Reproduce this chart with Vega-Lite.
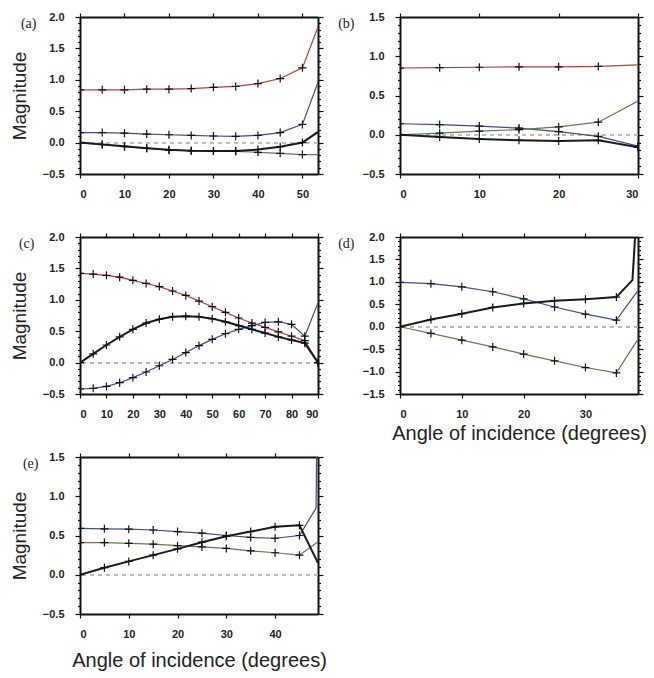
{
"$schema":"https://vega.github.io/schema/vega-lite/v6.json",
"background":"white",
"padding":{"left":10,"top":11,"right":5,"bottom":5},
"datasets":{"d":[
{"p":"a","s":"red","x":0,"y":0.84,"m":1},{"p":"a","s":"red","x":5,"y":0.84,"m":1},{"p":"a","s":"red","x":10,"y":0.84,"m":1},{"p":"a","s":"red","x":15,"y":0.85,"m":1},{"p":"a","s":"red","x":20,"y":0.85,"m":1},{"p":"a","s":"red","x":25,"y":0.86,"m":1},{"p":"a","s":"red","x":30,"y":0.88,"m":1},{"p":"a","s":"red","x":35,"y":0.895,"m":1},{"p":"a","s":"red","x":40,"y":0.94,"m":1},{"p":"a","s":"red","x":45,"y":1.02,"m":1},{"p":"a","s":"red","x":50,"y":1.19,"m":1},{"p":"a","s":"red","x":53.5,"y":1.84,"m":0},
{"p":"a","s":"blue","x":0,"y":0.16,"m":1},{"p":"a","s":"blue","x":5,"y":0.16,"m":1},{"p":"a","s":"blue","x":10,"y":0.15,"m":1},{"p":"a","s":"blue","x":15,"y":0.135,"m":1},{"p":"a","s":"blue","x":20,"y":0.125,"m":1},{"p":"a","s":"blue","x":25,"y":0.115,"m":1},{"p":"a","s":"blue","x":30,"y":0.105,"m":1},{"p":"a","s":"blue","x":35,"y":0.1,"m":1},{"p":"a","s":"blue","x":40,"y":0.115,"m":1},{"p":"a","s":"blue","x":45,"y":0.16,"m":1},{"p":"a","s":"blue","x":50,"y":0.29,"m":1},{"p":"a","s":"blue","x":53.5,"y":0.96,"m":0},
{"p":"a","s":"green","x":0,"y":0,"m":1},{"p":"a","s":"green","x":5,"y":-0.03,"m":1},{"p":"a","s":"green","x":10,"y":-0.065,"m":1},{"p":"a","s":"green","x":15,"y":-0.09,"m":1},{"p":"a","s":"green","x":20,"y":-0.12,"m":1},{"p":"a","s":"green","x":25,"y":-0.13,"m":1},{"p":"a","s":"green","x":30,"y":-0.135,"m":1},{"p":"a","s":"green","x":35,"y":-0.14,"m":1},{"p":"a","s":"green","x":40,"y":-0.155,"m":1},{"p":"a","s":"green","x":45,"y":-0.17,"m":1},{"p":"a","s":"green","x":50,"y":-0.19,"m":1},{"p":"a","s":"green","x":53.5,"y":-0.19,"m":0},
{"p":"a","s":"black","x":0,"y":0,"m":1},{"p":"a","s":"black","x":5,"y":-0.03,"m":1},{"p":"a","s":"black","x":10,"y":-0.06,"m":1},{"p":"a","s":"black","x":15,"y":-0.09,"m":1},{"p":"a","s":"black","x":20,"y":-0.115,"m":1},{"p":"a","s":"black","x":25,"y":-0.13,"m":1},{"p":"a","s":"black","x":30,"y":-0.135,"m":1},{"p":"a","s":"black","x":35,"y":-0.135,"m":1},{"p":"a","s":"black","x":40,"y":-0.11,"m":1},{"p":"a","s":"black","x":45,"y":-0.065,"m":1},{"p":"a","s":"black","x":50,"y":0.0,"m":1},{"p":"a","s":"black","x":53.5,"y":0.17,"m":0},
{"p":"b","s":"red","x":0,"y":0.85,"m":1},{"p":"b","s":"red","x":5,"y":0.855,"m":1},{"p":"b","s":"red","x":10,"y":0.86,"m":1},{"p":"b","s":"red","x":15,"y":0.865,"m":1},{"p":"b","s":"red","x":20,"y":0.865,"m":1},{"p":"b","s":"red","x":25,"y":0.87,"m":1},{"p":"b","s":"red","x":30,"y":0.89,"m":0},
{"p":"b","s":"blue","x":0,"y":0.14,"m":1},{"p":"b","s":"blue","x":5,"y":0.13,"m":1},{"p":"b","s":"blue","x":10,"y":0.11,"m":1},{"p":"b","s":"blue","x":15,"y":0.085,"m":1},{"p":"b","s":"blue","x":20,"y":0.04,"m":1},{"p":"b","s":"blue","x":25,"y":-0.02,"m":1},{"p":"b","s":"blue","x":30,"y":-0.145,"m":1},
{"p":"b","s":"green","x":0,"y":0,"m":1},{"p":"b","s":"green","x":5,"y":0.02,"m":1},{"p":"b","s":"green","x":10,"y":0.045,"m":1},{"p":"b","s":"green","x":15,"y":0.065,"m":1},{"p":"b","s":"green","x":20,"y":0.1,"m":1},{"p":"b","s":"green","x":25,"y":0.16,"m":1},{"p":"b","s":"green","x":30,"y":0.43,"m":0},
{"p":"b","s":"black","x":0,"y":0,"m":1},{"p":"b","s":"black","x":5,"y":-0.03,"m":1},{"p":"b","s":"black","x":10,"y":-0.055,"m":1},{"p":"b","s":"black","x":15,"y":-0.07,"m":1},{"p":"b","s":"black","x":20,"y":-0.08,"m":1},{"p":"b","s":"black","x":25,"y":-0.07,"m":1},{"p":"b","s":"black","x":30,"y":-0.16,"m":1},
{"p":"c","s":"red","x":0,"y":1.42,"m":1},{"p":"c","s":"red","x":5,"y":1.41,"m":1},{"p":"c","s":"red","x":10,"y":1.39,"m":1},{"p":"c","s":"red","x":15,"y":1.36,"m":1},{"p":"c","s":"red","x":20,"y":1.31,"m":1},{"p":"c","s":"red","x":25,"y":1.26,"m":1},{"p":"c","s":"red","x":30,"y":1.21,"m":1},{"p":"c","s":"red","x":35,"y":1.14,"m":1},{"p":"c","s":"red","x":40,"y":1.07,"m":1},{"p":"c","s":"red","x":45,"y":0.98,"m":1},{"p":"c","s":"red","x":50,"y":0.89,"m":1},{"p":"c","s":"red","x":55,"y":0.8,"m":1},{"p":"c","s":"red","x":60,"y":0.71,"m":1},{"p":"c","s":"red","x":65,"y":0.63,"m":1},{"p":"c","s":"red","x":70,"y":0.56,"m":1},{"p":"c","s":"red","x":75,"y":0.49,"m":1},{"p":"c","s":"red","x":80,"y":0.42,"m":1},{"p":"c","s":"red","x":85,"y":0.35,"m":1},{"p":"c","s":"red","x":90,"y":0.0,"m":1},
{"p":"c","s":"blue","x":0,"y":-0.42,"m":1},{"p":"c","s":"blue","x":5,"y":-0.41,"m":1},{"p":"c","s":"blue","x":10,"y":-0.38,"m":1},{"p":"c","s":"blue","x":15,"y":-0.32,"m":1},{"p":"c","s":"blue","x":20,"y":-0.24,"m":1},{"p":"c","s":"blue","x":25,"y":-0.15,"m":1},{"p":"c","s":"blue","x":30,"y":-0.05,"m":1},{"p":"c","s":"blue","x":35,"y":0.05,"m":1},{"p":"c","s":"blue","x":40,"y":0.16,"m":1},{"p":"c","s":"blue","x":45,"y":0.27,"m":1},{"p":"c","s":"blue","x":50,"y":0.37,"m":1},{"p":"c","s":"blue","x":55,"y":0.46,"m":1},{"p":"c","s":"blue","x":60,"y":0.53,"m":1},{"p":"c","s":"blue","x":65,"y":0.59,"m":1},{"p":"c","s":"blue","x":70,"y":0.64,"m":1},{"p":"c","s":"blue","x":75,"y":0.65,"m":1},{"p":"c","s":"blue","x":80,"y":0.61,"m":1},{"p":"c","s":"blue","x":85,"y":0.42,"m":1},{"p":"c","s":"blue","x":90,"y":0.95,"m":0},
{"p":"c","s":"black","x":0,"y":0,"m":1},{"p":"c","s":"black","x":5,"y":0.14,"m":1},{"p":"c","s":"black","x":10,"y":0.28,"m":1},{"p":"c","s":"black","x":15,"y":0.41,"m":1},{"p":"c","s":"black","x":20,"y":0.53,"m":1},{"p":"c","s":"black","x":25,"y":0.63,"m":1},{"p":"c","s":"black","x":30,"y":0.69,"m":1},{"p":"c","s":"black","x":35,"y":0.73,"m":1},{"p":"c","s":"black","x":40,"y":0.74,"m":1},{"p":"c","s":"black","x":45,"y":0.73,"m":1},{"p":"c","s":"black","x":50,"y":0.7,"m":1},{"p":"c","s":"black","x":55,"y":0.65,"m":1},{"p":"c","s":"black","x":60,"y":0.59,"m":1},{"p":"c","s":"black","x":65,"y":0.53,"m":1},{"p":"c","s":"black","x":70,"y":0.47,"m":1},{"p":"c","s":"black","x":75,"y":0.41,"m":1},{"p":"c","s":"black","x":80,"y":0.36,"m":1},{"p":"c","s":"black","x":85,"y":0.31,"m":1},{"p":"c","s":"black","x":90,"y":0.0,"m":1},
{"p":"d","s":"blue","x":0,"y":0.99,"m":1},{"p":"d","s":"blue","x":5,"y":0.96,"m":1},{"p":"d","s":"blue","x":10,"y":0.89,"m":1},{"p":"d","s":"blue","x":15,"y":0.78,"m":1},{"p":"d","s":"blue","x":20,"y":0.62,"m":1},{"p":"d","s":"blue","x":25,"y":0.44,"m":1},{"p":"d","s":"blue","x":30,"y":0.28,"m":1},{"p":"d","s":"blue","x":35,"y":0.145,"m":1},{"p":"d","s":"blue","x":38.4,"y":0.79,"m":0},
{"p":"d","s":"green","x":0,"y":0,"m":1},{"p":"d","s":"green","x":5,"y":-0.15,"m":1},{"p":"d","s":"green","x":10,"y":-0.3,"m":1},{"p":"d","s":"green","x":15,"y":-0.45,"m":1},{"p":"d","s":"green","x":20,"y":-0.61,"m":1},{"p":"d","s":"green","x":25,"y":-0.76,"m":1},{"p":"d","s":"green","x":30,"y":-0.91,"m":1},{"p":"d","s":"green","x":35,"y":-1.03,"m":1},{"p":"d","s":"green","x":38.4,"y":-0.3,"m":0},
{"p":"d","s":"black","x":0,"y":0,"m":1},{"p":"d","s":"black","x":5,"y":0.16,"m":1},{"p":"d","s":"black","x":10,"y":0.29,"m":1},{"p":"d","s":"black","x":15,"y":0.43,"m":1},{"p":"d","s":"black","x":20,"y":0.52,"m":1},{"p":"d","s":"black","x":25,"y":0.58,"m":1},{"p":"d","s":"black","x":30,"y":0.61,"m":1},{"p":"d","s":"black","x":35,"y":0.66,"m":1},{"p":"d","s":"black","x":37.6,"y":1.04,"m":0},{"p":"d","s":"black","x":38.3,"y":2.6,"m":0},
{"p":"e","s":"blue","x":0,"y":0.59,"m":1},{"p":"e","s":"blue","x":5,"y":0.585,"m":1},{"p":"e","s":"blue","x":10,"y":0.58,"m":1},{"p":"e","s":"blue","x":15,"y":0.57,"m":1},{"p":"e","s":"blue","x":20,"y":0.55,"m":1},{"p":"e","s":"blue","x":25,"y":0.53,"m":1},{"p":"e","s":"blue","x":30,"y":0.5,"m":1},{"p":"e","s":"blue","x":35,"y":0.475,"m":1},{"p":"e","s":"blue","x":40,"y":0.465,"m":1},{"p":"e","s":"blue","x":45,"y":0.5,"m":1},{"p":"e","s":"blue","x":48.4,"y":0.85,"m":0},{"p":"e","s":"blue","x":48.7,"y":2.6,"m":0},
{"p":"e","s":"green","x":0,"y":0.41,"m":1},{"p":"e","s":"green","x":5,"y":0.41,"m":1},{"p":"e","s":"green","x":10,"y":0.4,"m":1},{"p":"e","s":"green","x":15,"y":0.39,"m":1},{"p":"e","s":"green","x":20,"y":0.37,"m":1},{"p":"e","s":"green","x":25,"y":0.355,"m":1},{"p":"e","s":"green","x":30,"y":0.335,"m":1},{"p":"e","s":"green","x":35,"y":0.305,"m":1},{"p":"e","s":"green","x":40,"y":0.28,"m":1},{"p":"e","s":"green","x":45,"y":0.25,"m":1},{"p":"e","s":"green","x":48.8,"y":0.42,"m":0},
{"p":"e","s":"black","x":0,"y":0,"m":1},{"p":"e","s":"black","x":5,"y":0.09,"m":1},{"p":"e","s":"black","x":10,"y":0.17,"m":1},{"p":"e","s":"black","x":15,"y":0.25,"m":1},{"p":"e","s":"black","x":20,"y":0.33,"m":1},{"p":"e","s":"black","x":25,"y":0.415,"m":1},{"p":"e","s":"black","x":30,"y":0.49,"m":1},{"p":"e","s":"black","x":35,"y":0.55,"m":1},{"p":"e","s":"black","x":40,"y":0.61,"m":1},{"p":"e","s":"black","x":45,"y":0.63,"m":1},{"p":"e","s":"black","x":48.8,"y":0.15,"m":0}
]},
"data":{"name":"d"},
"config":{
 "view":{"stroke":null},
 "axis":{"grid":false,"domainColor":"#111","domainWidth":2,"tickColor":"#111","tickWidth":1.2,"labelFont":"Liberation Sans","labelFontSize":11,"labelFontWeight":"bold","labelColor":"#222","titleFont":"Liberation Sans","titleFontSize":19,"titleFontWeight":"normal","titleColor":"#222"},
 "axisTop":{"titleFont":"Liberation Serif","titleFontSize":14,"titleFontWeight":"normal","titleAngle":0,"titleAlign":"right","titleBaseline":"alphabetic","titleY":10,"labels":false,"tickSize":4}
},
"columns":2,
"bounds":"flush",
"spacing":{"row":63,"column":82},
"concat":[
{"width":238,"height":157,
 "transform":[{"filter":"datum.p==='a'"}],
 "layer":[
  {"mark":{"type":"rule","color":"#bbbbbb","strokeDash":[4,4],"strokeWidth":1},"encoding":{"y":{"datum":0,"type":"quantitative","axis":null}}},
  {"mark":{"type":"line","clip":true},"encoding":{
    "x":{"field":"x","type":"quantitative","scale":{"domain":[0,53.5],"nice":false,"zero":false},"axis":{"orient":"bottom","values":[0,10,20,30,40,50],"title":null,"tickSize":4,"labelPadding":10,"format":"d"}},
    "y":{"field":"y","type":"quantitative","scale":{"domain":[-0.5,2],"nice":false,"zero":false},"axis":{"orient":"left","values":[-0.5,-0.4,-0.3,-0.2,-0.1,0,0.1,0.2,0.3,0.4,0.5,0.6,0.7,0.8,0.9,1,1.1,1.2,1.3,1.4,1.5,1.6,1.7,1.8,1.9,2],"labelExpr":"abs(datum.value*2-round(datum.value*2))<0.001 ? format(datum.value,'.1f') : ''","tickSize":{"condition":{"test":"abs(datum.value*2-round(datum.value*2))<0.001","value":5},"value":2.5},"labelPadding":11,"title":"Magnitude","titlePadding":13}},
    "color":{"field":"s","type":"nominal","scale":{"domain":["red","blue","green","black"],"range":["#b0413e","#3f4d80","#5e7d4e","#1a1a1a"]},"legend":null},
    "strokeWidth":{"condition":{"test":"datum.s==='black'","value":2},"value":1.2}}},
  {"transform":[{"filter":"datum.m==1"}],"mark":{"type":"point","shape":"M-1,0L1,0M0,-1L0,1","size":64,"stroke":"#111","strokeWidth":1.2,"filled":false,"opacity":1,"clip":true},"encoding":{
    "x":{"field":"x","type":"quantitative","axis":{"orient":"top","title":"(a)","titleX":-44,"values":[0,10,20,30,40,50]}},
    "y":{"field":"y","type":"quantitative","axis":{"orient":"right","labels":false,"title":null,"values":[-0.5,-0.4,-0.3,-0.2,-0.1,0,0.1,0.2,0.3,0.4,0.5,0.6,0.7,0.8,0.9,1,1.1,1.2,1.3,1.4,1.5,1.6,1.7,1.8,1.9,2],"tickSize":{"condition":{"test":"abs(datum.value*2-round(datum.value*2))<0.001","value":5},"value":2.5}}}}}
 ],
 "resolve":{"axis":{"x":"independent","y":"independent"}}},
{"width":238,"height":157,
 "transform":[{"filter":"datum.p==='b'"}],
 "layer":[
  {"mark":{"type":"rule","color":"#bbbbbb","strokeDash":[4,4],"strokeWidth":1},"encoding":{"y":{"datum":0,"type":"quantitative","axis":null}}},
  {"mark":{"type":"line","clip":true},"encoding":{
    "x":{"field":"x","type":"quantitative","scale":{"domain":[0,30],"nice":false,"zero":false},"axis":{"orient":"bottom","values":[0,10,20,30],"title":null,"tickSize":4,"labelPadding":10,"format":"d"}},
    "y":{"field":"y","type":"quantitative","scale":{"domain":[-0.5,1.5],"nice":false,"zero":false},"axis":{"orient":"left","values":[-0.5,-0.4,-0.3,-0.2,-0.1,0,0.1,0.2,0.3,0.4,0.5,0.6,0.7,0.8,0.9,1,1.1,1.2,1.3,1.4,1.5],"labelExpr":"abs(datum.value*2-round(datum.value*2))<0.001 ? format(datum.value,'.1f') : ''","tickSize":{"condition":{"test":"abs(datum.value*2-round(datum.value*2))<0.001","value":5},"value":2.5},"labelPadding":11,"title":null}},
    "color":{"field":"s","type":"nominal","scale":{"domain":["red","blue","green","black"],"range":["#b0413e","#3f4d80","#5e7d4e","#1a1a1a"]},"legend":null},
    "strokeWidth":{"condition":{"test":"datum.s==='black'","value":2},"value":1.2}}},
  {"transform":[{"filter":"datum.m==1"}],"mark":{"type":"point","shape":"M-1,0L1,0M0,-1L0,1","size":64,"stroke":"#111","strokeWidth":1.2,"filled":false,"opacity":1,"clip":true},"encoding":{
    "x":{"field":"x","type":"quantitative","axis":{"orient":"top","title":"(b)","titleX":-46,"values":[0,10,20,30]}},
    "y":{"field":"y","type":"quantitative","axis":{"orient":"right","labels":false,"title":null,"values":[-0.5,-0.4,-0.3,-0.2,-0.1,0,0.1,0.2,0.3,0.4,0.5,0.6,0.7,0.8,0.9,1,1.1,1.2,1.3,1.4,1.5],"tickSize":{"condition":{"test":"abs(datum.value*2-round(datum.value*2))<0.001","value":5},"value":2.5}}}}}
 ],
 "resolve":{"axis":{"x":"independent","y":"independent"}}},
{"width":238,"height":157,
 "transform":[{"filter":"datum.p==='c'"}],
 "layer":[
  {"mark":{"type":"rule","color":"#d4a8a8","strokeDash":[4,4],"strokeWidth":1},"encoding":{"y":{"datum":0,"type":"quantitative","axis":null}}},
  {"mark":{"type":"line","clip":true},"encoding":{
    "x":{"field":"x","type":"quantitative","scale":{"domain":[0,90],"nice":false,"zero":false},"axis":{"orient":"bottom","values":[0,10,20,30,40,50,60,70,80,90],"title":null,"tickSize":4,"labelPadding":10,"format":"d"}},
    "y":{"field":"y","type":"quantitative","scale":{"domain":[-0.5,2],"nice":false,"zero":false},"axis":{"orient":"left","values":[-0.5,-0.4,-0.3,-0.2,-0.1,0,0.1,0.2,0.3,0.4,0.5,0.6,0.7,0.8,0.9,1,1.1,1.2,1.3,1.4,1.5,1.6,1.7,1.8,1.9,2],"labelExpr":"abs(datum.value*2-round(datum.value*2))<0.001 ? format(datum.value,'.1f') : ''","tickSize":{"condition":{"test":"abs(datum.value*2-round(datum.value*2))<0.001","value":5},"value":2.5},"labelPadding":11,"title":"Magnitude","titlePadding":13}},
    "color":{"field":"s","type":"nominal","scale":{"domain":["red","blue","green","black"],"range":["#b0413e","#3f4d80","#5e7d4e","#1a1a1a"]},"legend":null},
    "strokeWidth":{"condition":{"test":"datum.s==='black'","value":2},"value":1.2}}},
  {"transform":[{"filter":"datum.m==1"}],"mark":{"type":"point","shape":"M-1,0L1,0M0,-1L0,1","size":64,"stroke":"#111","strokeWidth":1.2,"filled":false,"opacity":1,"clip":true},"encoding":{
    "x":{"field":"x","type":"quantitative","axis":{"orient":"top","title":"(c)","titleX":-46,"values":[0,10,20,30,40,50,60,70,80,90]}},
    "y":{"field":"y","type":"quantitative","axis":{"orient":"right","labels":false,"title":null,"values":[-0.5,-0.4,-0.3,-0.2,-0.1,0,0.1,0.2,0.3,0.4,0.5,0.6,0.7,0.8,0.9,1,1.1,1.2,1.3,1.4,1.5,1.6,1.7,1.8,1.9,2],"tickSize":{"condition":{"test":"abs(datum.value*2-round(datum.value*2))<0.001","value":5},"value":2.5}}}}}
 ],
 "resolve":{"axis":{"x":"independent","y":"independent"}}},
{"width":238,"height":157,
 "transform":[{"filter":"datum.p==='d'"}],
 "layer":[
  {"mark":{"type":"rule","color":"#bbbbbb","strokeDash":[4,4],"strokeWidth":1},"encoding":{"y":{"datum":0,"type":"quantitative","axis":null}}},
  {"mark":{"type":"line","clip":true},"encoding":{
    "x":{"field":"x","type":"quantitative","scale":{"domain":[0,38.5],"nice":false,"zero":false},"axis":{"orient":"bottom","values":[0,10,20,30],"title":"Angle of incidence (degrees)","titleFontSize":20,"titlePadding":4,"tickSize":4,"labelPadding":10,"format":"d"}},
    "y":{"field":"y","type":"quantitative","scale":{"domain":[-1.5,2],"nice":false,"zero":false},"axis":{"orient":"left","values":[-1.5,-1.4,-1.3,-1.2,-1.1,-1,-0.9,-0.8,-0.7,-0.6,-0.5,-0.4,-0.3,-0.2,-0.1,0,0.1,0.2,0.3,0.4,0.5,0.6,0.7,0.8,0.9,1,1.1,1.2,1.3,1.4,1.5,1.6,1.7,1.8,1.9,2],"labelExpr":"abs(datum.value*2-round(datum.value*2))<0.001 ? format(datum.value,'.1f') : ''","tickSize":{"condition":{"test":"abs(datum.value*2-round(datum.value*2))<0.001","value":5},"value":2.5},"labelPadding":11,"title":null}},
    "color":{"field":"s","type":"nominal","scale":{"domain":["red","blue","green","black"],"range":["#b0413e","#3f4d80","#5e7d4e","#1a1a1a"]},"legend":null},
    "strokeWidth":{"condition":{"test":"datum.s==='black'","value":2},"value":1.2}}},
  {"transform":[{"filter":"datum.m==1"}],"mark":{"type":"point","shape":"M-1,0L1,0M0,-1L0,1","size":64,"stroke":"#111","strokeWidth":1.2,"filled":false,"opacity":1,"clip":true},"encoding":{
    "x":{"field":"x","type":"quantitative","axis":{"orient":"top","title":"(d)","titleX":-46,"values":[0,10,20,30]}},
    "y":{"field":"y","type":"quantitative","axis":{"orient":"right","labels":false,"title":null,"values":[-1.5,-1.4,-1.3,-1.2,-1.1,-1,-0.9,-0.8,-0.7,-0.6,-0.5,-0.4,-0.3,-0.2,-0.1,0,0.1,0.2,0.3,0.4,0.5,0.6,0.7,0.8,0.9,1,1.1,1.2,1.3,1.4,1.5,1.6,1.7,1.8,1.9,2],"tickSize":{"condition":{"test":"abs(datum.value*2-round(datum.value*2))<0.001","value":5},"value":2.5}}}}}
 ],
 "resolve":{"axis":{"x":"independent","y":"independent"}}},
{"width":238,"height":157,
 "transform":[{"filter":"datum.p==='e'"}],
 "layer":[
  {"mark":{"type":"rule","color":"#bbbbbb","strokeDash":[4,4],"strokeWidth":1},"encoding":{"y":{"datum":0,"type":"quantitative","axis":null}}},
  {"mark":{"type":"line","clip":true},"encoding":{
    "x":{"field":"x","type":"quantitative","scale":{"domain":[0,48.8],"nice":false,"zero":false},"axis":{"orient":"bottom","values":[0,10,20,30,40],"title":"Angle of incidence (degrees)","titleFontSize":20,"titlePadding":11,"tickSize":4,"labelPadding":10,"format":"d"}},
    "y":{"field":"y","type":"quantitative","scale":{"domain":[-0.5,1.5],"nice":false,"zero":false},"axis":{"orient":"left","values":[-0.5,-0.4,-0.3,-0.2,-0.1,0,0.1,0.2,0.3,0.4,0.5,0.6,0.7,0.8,0.9,1,1.1,1.2,1.3,1.4,1.5],"labelExpr":"abs(datum.value*2-round(datum.value*2))<0.001 ? format(datum.value,'.1f') : ''","tickSize":{"condition":{"test":"abs(datum.value*2-round(datum.value*2))<0.001","value":5},"value":2.5},"labelPadding":11,"title":"Magnitude","titlePadding":13}},
    "color":{"field":"s","type":"nominal","scale":{"domain":["red","blue","green","black"],"range":["#b0413e","#3f4d80","#5e7d4e","#1a1a1a"]},"legend":null},
    "strokeWidth":{"condition":{"test":"datum.s==='black'","value":2},"value":1.2}}},
  {"transform":[{"filter":"datum.m==1"}],"mark":{"type":"point","shape":"M-1,0L1,0M0,-1L0,1","size":64,"stroke":"#111","strokeWidth":1.2,"filled":false,"opacity":1,"clip":true},"encoding":{
    "x":{"field":"x","type":"quantitative","axis":{"orient":"top","title":"(e)","titleX":-42,"values":[0,10,20,30,40]}},
    "y":{"field":"y","type":"quantitative","axis":{"orient":"right","labels":false,"title":null,"values":[-0.5,-0.4,-0.3,-0.2,-0.1,0,0.1,0.2,0.3,0.4,0.5,0.6,0.7,0.8,0.9,1,1.1,1.2,1.3,1.4,1.5],"tickSize":{"condition":{"test":"abs(datum.value*2-round(datum.value*2))<0.001","value":5},"value":2.5}}}}}
 ],
 "resolve":{"axis":{"x":"independent","y":"independent"}}}
]
}
